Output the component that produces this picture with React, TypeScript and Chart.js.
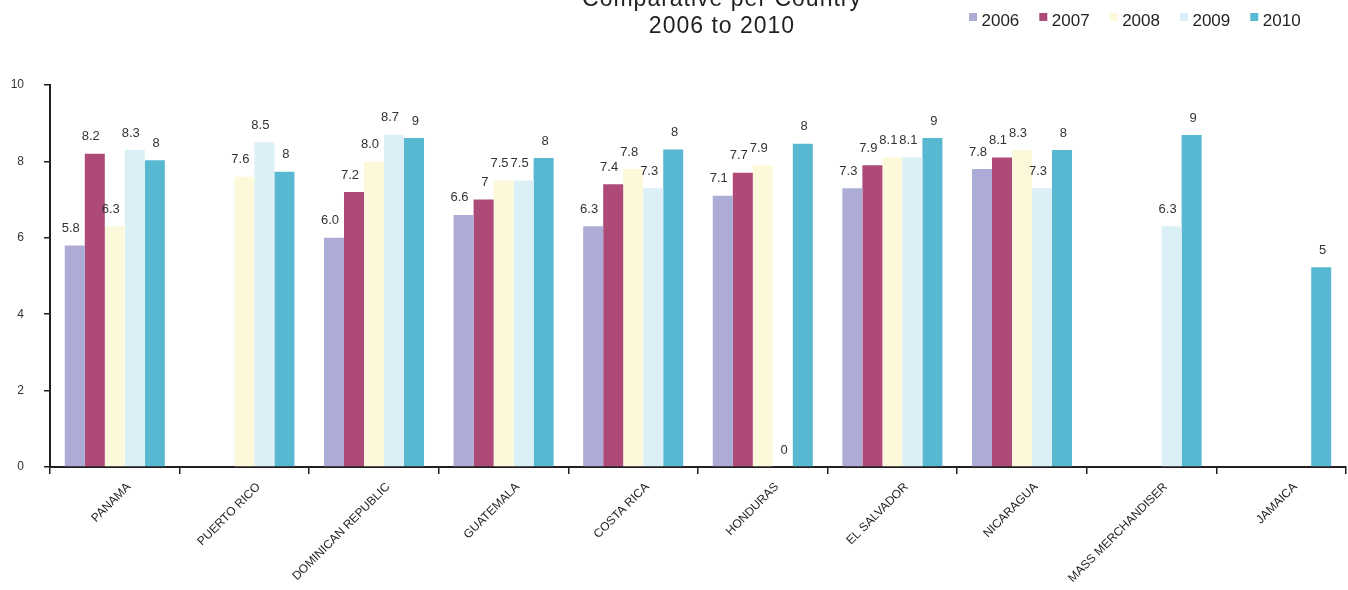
import { useEffect, useRef } from 'react';
import { Chart, registerables } from 'chart.js';

Chart.register(...registerables);

// Categories along the x axis
const countries = [
  'PANAMA',
  'PUERTO RICO',
  'DOMINICAN REPUBLIC',
  'GUATEMALA',
  'COSTA RICA',
  'HONDURAS',
  'EL SALVADOR',
  'NICARAGUA',
  'MASS MERCHANDISER',
  'JAMAICA',
];

// Series (one per year); null = no score that year
const years = ['2006', '2007', '2008', '2009', '2010'];
const scores2006 = [5.8, null, 6.0, 6.6, 6.3, 7.1, 7.3, 7.8, null, null];
const scores2007 = [8.2, null, 7.2, 7, 7.4, 7.7, 7.9, 8.1, null, null];
const scores2008 = [6.3, 7.6, 8.0, 7.5, 7.8, 7.9, 8.1, 8.3, null, null];
const scores2009 = [8.3, 8.5, 8.7, 7.5, 7.3, 0, 8.1, 7.3, 6.3, null];
const scores2010 = [8.03, 7.73, 8.61, 8.09, 8.31, 8.46, 8.61, 8.3, 8.69, 5.23];

// Decimals shown in each series' value labels (null = value as written)
const labelDecimals: (number | null)[] = [1, null, 1, null, 0];

const yearColors = ['#ADACD6', '#AD4A78', '#FCF9DB', '#DAF0F6', '#58B8D2'];

const yTicks = [0, 2, 4, 6, 8, 10];

const titleLines = ['Comparative per Country', '2006 to 2010'];

const FONT = '"Liberation Sans", Arial, Helvetica, sans-serif';
const INK = '#231f20';

const formatValue = (v: number, decimals: number | null) =>
  decimals === null ? String(v) : v.toFixed(decimals);

// Writes the value above each bar
const valueLabels = {
  id: 'valueLabels',
  afterDatasetsDraw(chart: any) {
    const ctx = chart.ctx as CanvasRenderingContext2D;
    ctx.save();
    ctx.font = `13px ${FONT}`;
    ctx.fillStyle = '#333333';
    ctx.textAlign = 'right';
    ctx.textBaseline = 'middle';
    chart.data.datasets.forEach((ds: any, di: number) => {
      const meta = chart.getDatasetMeta(di);
      meta.data.forEach((bar: any, i: number) => {
        const v = ds.data[i];
        if (v === null || v === undefined) return;
        ctx.fillText(formatValue(v, labelDecimals[di]), bar.x + 5, bar.y - 17);
      });
    });
    ctx.restore();
  },
};

// Two-line title and the legend row along the top edge
const header = {
  id: 'header',
  afterDraw(chart: any) {
    const ctx = chart.ctx as CanvasRenderingContext2D;
    ctx.save();
    ctx.fillStyle = INK;
    ctx.textAlign = 'center';
    ctx.textBaseline = 'alphabetic';
    ctx.font = `23px ${FONT}`;
    (ctx as any).letterSpacing = '1px';
    ctx.fillText(titleLines[0], 722, 6);
    ctx.fillText(titleLines[1], 722, 33);
    (ctx as any).letterSpacing = '0px';

    ctx.font = `17px ${FONT}`;
    ctx.textAlign = 'left';
    let x = 969;
    chart.data.datasets.forEach((ds: any) => {
      ctx.fillStyle = ds.backgroundColor;
      ctx.fillRect(x, 13, 8, 8);
      ctx.fillStyle = INK;
      const tx = x + 12.5;
      ctx.fillText(ds.label, tx, 26);
      x = tx + ctx.measureText(ds.label).width + 20;
    });
    ctx.restore();
  },
};

export default function App() {
  const canvasRef = useRef<HTMLCanvasElement | null>(null);

  useEffect(() => {
    if (!canvasRef.current) return;
    const series = [scores2006, scores2007, scores2008, scores2009, scores2010];
    const chart = new Chart(canvasRef.current, {
      type: 'bar',
      data: {
        labels: countries,
        datasets: years.map((y, i) => ({
          label: y,
          data: series[i],
          backgroundColor: yearColors[i],
          borderWidth: 0,
          barPercentage: 1,
          categoryPercentage: 0.772,
        })),
      },
      options: {
        responsive: false,
        animation: false,
        devicePixelRatio: 1,
        layout: { padding: { top: 85, right: 2, left: 0, bottom: 0 } },
        plugins: {
          legend: { display: false },
          title: { display: false },
          tooltip: { enabled: false },
        },
        scales: {
          x: {
            grid: {
              display: true,
              drawOnChartArea: false,
              drawTicks: true,
              tickLength: 7,
              color: INK,
              lineWidth: 1.5,
              offset: true,
            },
            border: { display: true, color: INK, width: 2 },
            ticks: {
              autoSkip: false,
              minRotation: 45,
              maxRotation: 45,
              padding: 6,
              labelOffset: 14,
              color: INK,
              font: { family: FONT, size: 12 },
            },
            afterFit: (s: any) => {
              s.height = 123;
            },
          },
          y: {
            min: 0,
            max: 10,
            afterBuildTicks: (s: any) => {
              s.ticks = yTicks.map((v) => ({ value: v }));
            },
            grid: {
              display: true,
              drawOnChartArea: false,
              drawTicks: true,
              tickLength: 6,
              color: INK,
              lineWidth: 1.5,
            },
            border: { display: true, color: INK, width: 2 },
            ticks: {
              padding: 20,
              color: '#333333',
              font: { family: FONT, size: 12 },
            },
            afterFit: (s: any) => {
              s.width = 50;
            },
          },
        },
      },
      plugins: [valueLabels, header],
    });
    return () => chart.destroy();
  }, []);

  return (
    <div style={{ position: 'fixed', left: 0, top: 0, width: 1348, height: 590, background: '#fff' }}>
      <canvas ref={canvasRef} width={1348} height={590} style={{ display: 'block' }} />
    </div>
  );
}
